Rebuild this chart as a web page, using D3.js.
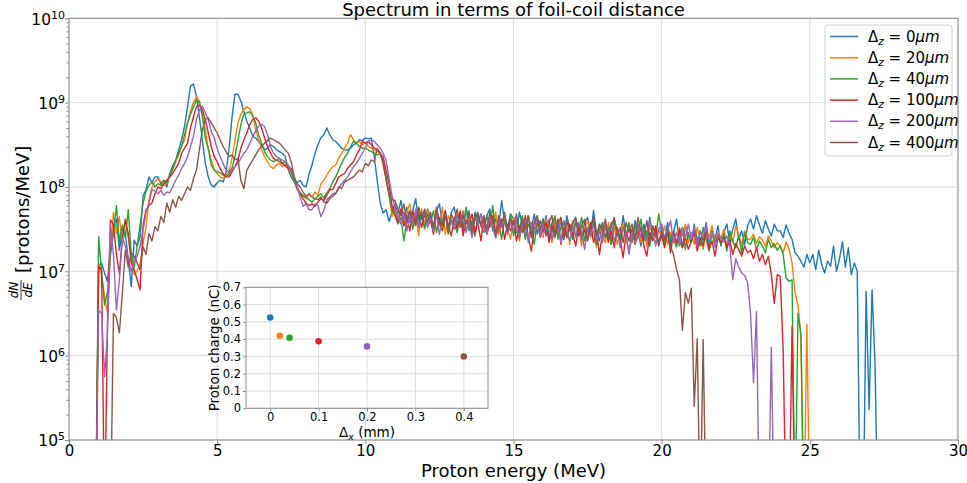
<!DOCTYPE html>
<html><head><meta charset="utf-8">
<script src="https://cdn.jsdelivr.net/npm/d3@7"></script>
<style>body{margin:0;background:#fff}svg{font-family:"DejaVu Sans",sans-serif}</style>
</head><body><svg id="c" width="967" height="483"></svg>
<script>
// ---------- DATA ----------
const seriesLabels = ["0", "20", "40", "100", "200", "400"];
const seriesColors = ["#1f77b4", "#ff7f0e", "#2ca02c", "#d62728", "#9467bd", "#8c564b"];
// spectra sampled on bins starting at energyStart (MeV), width binWidth; values are log10(dN/dE)
const energyStart = 0.9, binWidth = 0.1;
const log10_dz0 = [4.00,
 7.06,7.10,6.98,6.88,7.30,7.55,7.62,7.25,7.50,7.45,
 7.14,6.82,7.37,7.30,7.41,7.89,7.97,8.12,8.05,8.12,
 8.12,8.04,8.08,8.00,8.16,8.25,8.32,8.44,8.56,8.72,
 8.95,9.20,9.22,9.08,8.83,8.56,8.28,8.12,8.02,8.00,
 8.05,8.08,8.06,8.17,8.45,8.82,9.10,9.10,9.02,8.90,
 8.78,8.70,8.60,8.58,8.54,8.50,8.44,8.46,8.50,8.48,
 8.44,8.42,8.40,8.36,8.20,8.12,8.06,8.05,8.08,8.02,
 8.00,8.15,8.26,8.40,8.50,8.58,8.62,8.70,8.62,8.56,
 8.54,8.50,8.46,8.44,8.44,8.46,8.50,8.52,8.56,8.55,
 8.58,8.57,8.58,8.36,8.08,7.81,7.69,7.73,7.59,7.70,
 7.80,7.68,7.84,7.62,7.76,7.58,7.72,7.86,7.60,7.70,
 7.55,7.74,7.64,7.50,7.72,7.80,7.56,7.68,7.46,7.70,
 7.76,7.56,7.68,7.48,7.74,7.62,7.44,7.70,7.58,7.68,
 7.52,7.66,7.74,7.48,7.62,7.54,7.84,7.58,7.46,7.68,
 7.62,7.46,7.70,7.55,7.40,7.66,7.50,7.68,7.44,7.60,
 7.48,7.66,7.40,7.58,7.64,7.44,7.60,7.38,7.66,7.50,
 7.42,7.62,7.50,7.36,7.58,7.64,7.42,7.72,7.46,7.36,
 7.58,7.40,7.54,7.32,7.62,7.46,7.38,7.66,7.42,7.52,
 7.36,7.60,7.46,7.30,7.56,7.40,7.64,7.38,7.52,7.30,
 7.52,7.38,7.58,7.32,7.46,7.62,7.36,7.28,7.54,7.42,
 7.34,7.56,7.30,7.48,7.36,7.58,7.28,7.50,7.38,7.54,
 7.30,7.46,7.56,7.34,7.50,7.62,7.38,7.48,7.32,7.54,
 7.62,7.50,7.66,7.55,7.45,7.60,7.50,7.42,7.56,7.48,
 7.48,7.40,7.55,7.45,7.38,7.22,7.18,7.12,7.05,7.20,
 7.10,7.20,7.02,7.25,7.08,6.98,7.12,7.06,7.30,7.00,
 7.15,7.35,7.05,7.28,6.96,7.10,7.00,4.00,4.00,6.76,
 5.36,6.78,5.90,4.00];
const log10_dz20 = [4.00,
 7.10,6.95,6.70,6.50,7.20,7.70,7.45,7.65,7.30,7.62,
 7.40,7.18,6.96,7.00,7.10,7.33,7.53,7.85,8.00,8.06,
 8.10,8.06,8.02,8.04,8.12,8.20,8.30,8.38,8.48,8.56,
 8.76,8.90,9.00,9.07,9.02,8.86,8.68,8.45,8.32,8.20,
 8.16,8.12,8.10,8.14,8.18,8.34,8.55,8.76,8.86,8.92,
 8.95,8.93,8.86,8.68,8.56,8.44,8.36,8.30,8.24,8.22,
 8.26,8.28,8.24,8.27,8.22,8.16,8.08,7.97,7.92,7.89,
 7.86,7.92,7.88,7.94,7.90,8.04,8.08,8.14,8.20,8.24,
 8.26,8.34,8.40,8.46,8.52,8.62,8.56,8.52,8.54,8.50,
 8.52,8.48,8.46,8.44,8.42,8.40,8.26,8.10,7.93,7.65,
 7.76,7.60,7.74,7.54,7.70,7.80,7.56,7.68,7.42,7.74,
 7.54,7.72,7.60,7.48,7.70,7.54,7.76,7.44,7.66,7.58,
 7.50,7.70,7.58,7.72,7.48,7.64,7.54,7.42,7.68,7.56,
 7.66,7.46,7.62,7.52,7.70,7.44,7.58,7.66,7.50,7.38,
 7.64,7.52,7.36,7.60,7.48,7.66,7.42,7.58,7.64,7.46,
 7.40,7.62,7.50,7.34,7.58,7.46,7.64,7.40,7.56,7.32,
 7.60,7.44,7.54,7.30,7.52,7.60,7.40,7.48,7.28,7.56,
 7.44,7.34,7.58,7.42,7.52,7.32,7.46,7.56,7.38,7.24,
 7.50,7.40,7.56,7.34,7.46,7.30,7.54,7.42,7.34,7.50,
 7.40,7.54,7.32,7.46,7.38,7.28,7.52,7.42,7.56,7.34,
 7.46,7.32,7.52,7.38,7.26,7.48,7.40,7.54,7.34,7.46,
 7.38,7.50,7.30,7.44,7.34,7.54,7.44,7.30,7.48,7.38,
 7.38,7.44,7.33,7.41,7.37,7.30,7.42,7.36,7.28,7.34,
 7.30,7.22,7.35,7.26,7.10,6.75,6.60,6.22,4.00,6.37,
 4.00];
const log10_dz40 = [4.00,
 7.41,7.00,6.60,6.75,7.20,7.45,7.78,7.35,7.55,7.40,
 7.73,7.20,7.05,7.30,7.55,7.81,7.95,8.02,8.06,8.00,
 8.04,8.02,8.08,8.05,8.14,8.22,8.32,8.40,8.48,8.62,
 8.76,8.86,8.95,9.03,9.00,8.84,8.58,8.46,8.26,8.20,
 8.18,8.17,8.14,8.12,8.15,8.22,8.36,8.55,8.74,8.86,
 8.88,8.89,8.84,8.76,8.62,8.52,8.42,8.36,8.32,8.30,
 8.32,8.34,8.28,8.30,8.24,8.18,8.06,7.98,7.93,7.90,
 7.88,7.85,7.82,7.86,7.89,7.92,7.87,7.93,7.98,8.06,
 8.12,8.20,8.28,8.35,8.40,8.48,8.54,8.52,8.48,8.46,
 8.46,8.44,8.42,8.40,8.38,8.40,8.30,8.12,7.90,7.72,
 7.66,7.56,7.64,7.36,7.60,7.72,7.50,7.66,7.54,7.70,
 7.50,7.68,7.58,7.72,7.46,7.64,7.54,7.70,7.44,7.62,
 7.56,7.46,7.70,7.52,7.76,7.48,7.60,7.42,7.66,7.54,
 7.46,7.66,7.52,7.78,7.44,7.58,7.38,7.62,7.50,7.68,
 7.42,7.60,7.50,7.66,7.38,7.56,7.48,7.32,7.60,7.50,
 7.62,7.42,7.56,7.46,7.66,7.38,7.52,7.60,7.40,7.52,
 7.38,7.58,7.46,7.64,7.36,7.52,7.44,7.60,7.32,7.50,
 7.56,7.40,7.50,7.32,7.60,7.44,7.38,7.52,7.42,7.58,
 7.34,7.54,7.44,7.62,7.36,7.48,7.30,7.52,7.40,7.68,
 7.46,7.32,7.52,7.38,7.48,7.30,7.44,7.52,7.26,7.46,
 7.34,7.48,7.40,7.30,7.52,7.38,7.24,7.46,7.34,7.42,
 7.32,7.44,7.24,7.48,7.36,7.28,7.42,7.22,7.46,7.34,
 7.32,7.40,7.26,7.36,7.30,7.22,7.38,7.28,7.33,7.25,
 7.30,7.20,6.92,6.88,6.90,4.00,6.50,6.25,4.00];
const log10_dz100 = [4.00,
 7.06,7.02,4.00,6.43,7.61,7.55,7.21,6.97,7.40,7.61,
 7.45,7.10,7.02,6.90,6.78,7.55,7.73,7.78,7.81,7.92,
 8.00,7.98,8.04,8.08,8.12,8.16,8.22,8.28,8.40,8.46,
 8.52,8.70,8.83,8.95,8.97,8.92,8.80,8.64,8.48,8.36,
 8.30,8.22,8.16,8.12,8.12,8.18,8.24,8.32,8.46,8.56,
 8.64,8.74,8.80,8.82,8.78,8.70,8.58,8.48,8.40,8.34,
 8.32,8.30,8.28,8.25,8.22,8.22,8.12,8.00,7.92,7.86,
 7.81,7.78,7.80,7.77,7.82,7.86,7.84,7.90,7.97,7.97,
 8.04,8.12,8.14,8.16,8.22,8.26,8.30,8.38,8.44,8.54,
 8.52,8.54,8.50,8.46,8.44,8.40,8.36,8.20,8.04,7.78,
 7.68,7.58,7.74,7.54,7.66,7.48,7.72,7.58,7.70,7.52,
 7.68,7.54,7.60,7.44,7.74,7.58,7.48,7.66,7.56,7.42,
 7.64,7.50,7.72,7.42,7.60,7.54,7.68,7.46,7.58,7.36,
 7.62,7.44,7.56,7.66,7.40,7.54,7.62,7.38,7.56,7.48,
 7.60,7.36,7.54,7.46,7.66,7.40,7.24,7.50,7.58,7.42,
 7.48,7.58,7.34,7.54,7.44,7.62,7.32,7.52,7.40,7.56,
 7.44,7.30,7.54,7.40,7.50,7.36,7.58,7.34,7.48,7.20,
 7.44,7.54,7.34,7.48,7.28,7.52,7.38,7.16,7.46,7.36,
 7.50,7.32,7.42,7.52,7.30,7.18,7.46,7.36,7.54,7.32,
 7.42,7.28,7.48,7.22,7.46,7.34,7.50,7.28,7.40,7.26,
 7.36,7.46,7.24,7.40,7.30,7.48,7.26,7.36,7.18,7.40,
 7.34,7.40,7.28,7.36,7.20,7.33,7.26,7.18,7.30,7.22,
 7.25,7.15,7.28,7.12,7.20,7.08,7.18,6.96,6.62,6.96,
 6.94,6.07,4.00,4.00,6.35,4.00];
const log10_dz200 = [4.00,
 6.54,6.50,5.75,6.27,7.57,7.20,6.54,6.90,7.40,7.30,
 7.15,7.00,7.10,7.18,7.30,7.49,7.70,7.81,7.97,7.95,
 7.92,7.96,7.90,7.94,7.93,8.00,8.08,8.14,8.22,8.28,
 8.36,8.48,8.60,8.80,8.91,8.96,8.88,8.80,8.66,8.58,
 8.46,8.36,8.28,8.20,8.18,8.22,8.24,8.28,8.34,8.40,
 8.44,8.52,8.60,8.66,8.72,8.74,8.72,8.62,8.48,8.40,
 8.36,8.34,8.32,8.30,8.26,8.20,8.10,8.00,7.88,7.77,
 7.80,7.73,7.73,7.80,7.78,7.65,7.72,7.85,7.88,7.92,
 7.93,7.98,8.04,8.08,8.12,8.18,8.24,8.28,8.34,8.40,
 8.46,8.54,8.56,8.54,8.50,8.46,8.40,8.32,8.10,7.90,
 7.76,7.64,7.56,7.70,7.48,7.66,7.56,7.74,7.52,7.64,
 7.70,7.52,7.64,7.48,7.68,7.44,7.60,7.72,7.50,7.62,
 7.50,7.66,7.56,7.70,7.46,7.60,7.40,7.64,7.54,7.68,
 7.54,7.44,7.64,7.52,7.40,7.62,7.52,7.66,7.44,7.58,
 7.48,7.62,7.40,7.56,7.60,7.34,7.58,7.46,7.64,7.40,
 7.56,7.42,7.62,7.38,7.52,7.58,7.34,7.60,7.46,7.36,
 7.54,7.40,7.58,7.46,7.26,7.52,7.42,7.56,7.36,7.48,
 7.34,7.56,7.44,7.58,7.36,7.48,7.28,7.52,7.42,7.20,
 7.46,7.34,7.56,7.40,7.50,7.36,7.60,7.44,7.30,7.50,
 7.56,7.38,7.48,7.60,7.34,7.46,7.30,7.52,7.40,7.56,
 7.38,7.52,7.30,7.48,7.40,7.56,7.34,7.46,7.28,7.44,
 7.40,7.35,7.42,7.30,6.90,7.15,7.05,6.98,6.95,6.87,
 6.50,5.68,6.52,4.00,4.00,4.00,4.00,6.10,4.00];
const log10_dz400 = [4.00,
 4.00,4.00,4.00,4.00,4.00,6.50,6.45,6.27,6.74,7.25,
 7.05,7.22,7.18,7.10,7.02,7.29,7.20,7.45,7.36,7.53,
 7.48,7.65,7.58,7.81,7.70,7.85,7.76,7.89,7.84,7.92,
 8.00,7.96,8.10,8.20,8.44,8.68,8.80,8.82,8.76,8.70,
 8.64,8.56,8.48,8.42,8.36,8.38,8.32,8.34,8.08,7.98,
 8.20,8.26,8.32,8.38,8.44,8.48,8.52,8.55,8.58,8.56,
 8.54,8.52,8.48,8.44,8.40,8.30,8.12,8.04,8.00,7.94,
 7.89,7.92,7.88,7.86,7.85,7.88,7.82,7.81,7.86,7.89,
 7.92,8.00,7.98,8.06,8.08,8.10,8.12,8.16,8.20,8.18,
 8.28,8.25,8.32,8.30,8.46,8.40,8.30,8.08,7.92,7.85,
 7.84,7.74,7.66,7.80,7.58,7.72,7.64,7.54,7.76,7.62,
 7.74,7.58,7.70,7.52,7.76,7.60,7.54,7.72,7.48,7.68,
 7.60,7.74,7.52,7.66,7.56,7.72,7.46,7.64,7.70,7.54,
 7.66,7.50,7.70,7.58,7.44,7.66,7.54,7.70,7.48,7.62,
 7.56,7.68,7.46,7.62,7.50,7.66,7.40,7.58,7.66,7.48,
 7.62,7.44,7.58,7.66,7.40,7.56,7.64,7.38,7.60,7.48,
 7.58,7.64,7.42,7.54,7.62,7.38,7.52,7.64,7.42,7.56,
 7.48,7.62,7.38,7.54,7.64,7.42,7.52,7.34,7.58,7.46,
 7.56,7.38,7.64,7.48,7.40,7.60,7.36,7.54,7.46,7.34,
 7.46,7.38,7.44,7.30,7.20,7.02,6.90,6.30,6.75,6.62,
 6.80,5.40,6.20,4.00,6.19,4.00];
const spectra = [log10_dz0, log10_dz20, log10_dz40, log10_dz100, log10_dz200, log10_dz400];

// inset: total proton charge vs distance
const insetDistanceMm = [0, 0.02, 0.04, 0.1, 0.2, 0.4];
const insetChargeNc = [0.525, 0.42, 0.408, 0.388, 0.358, 0.30];

const xTickValues = [0, 5, 10, 15, 20, 25, 30];
const yMajorExponents = [5, 6, 7, 8, 9, 10];
const insetXTicks = [0, 0.1, 0.2, 0.3, 0.4];
const insetYTicks = [0, 0.1, 0.2, 0.3, 0.4, 0.5, 0.6, 0.7];

// ---------- DRAW ----------
const svg = d3.select("#c");
const L = 69, R = 958, T = 18.3, B = 440;
const x = d3.scaleLinear().domain([0, 30]).range([L, R]);
const y = d3.scaleLog().domain([1e5, 1e10]).range([B, T]);
const gridC = "#dcdcdc", spineC = "#8c8c8c";

svg.append("rect").attr("width", 967).attr("height", 483).attr("fill", "#fff");
svg.append("defs").append("clipPath").attr("id", "clip")
  .append("rect").attr("x", L).attr("y", T).attr("width", R - L).attr("height", B - T);

// grid
const majorY = yMajorExponents.map(e => Math.pow(10, e));
svg.append("g").selectAll("line").data(xTickValues).join("line")
  .attr("x1", d => x(d)).attr("x2", d => x(d)).attr("y1", T).attr("y2", B)
  .attr("stroke", gridC).attr("stroke-width", 1);
svg.append("g").selectAll("line").data(majorY).join("line")
  .attr("x1", L).attr("x2", R).attr("y1", d => y(d)).attr("y2", d => y(d))
  .attr("stroke", gridC).attr("stroke-width", 1);

// spectra
const line = d3.line()
  .x((d, i) => x(energyStart + i * binWidth))
  .y(d => y(Math.pow(10, d)));
const plot = svg.append("g").attr("clip-path", "url(#clip)");
spectra.forEach((s, k) => {
  plot.append("path").datum(s).attr("d", line)
    .attr("fill", "none").attr("stroke", seriesColors[k])
    .attr("stroke-width", 1.4).attr("stroke-linejoin", "round");
});

// axes
const xAxis = svg.append("g").attr("transform", `translate(0,${B})`)
  .call(d3.axisBottom(x).tickValues(xTickValues).tickSize(4).tickPadding(1).tickFormat(d3.format("d")));
xAxis.selectAll("text").attr("font-size", 15).attr("fill", "#000").attr("font-family", "DejaVu Sans");
const minorY = [];
for (let e = 5; e < 10; e++) for (let m = 2; m <= 9; m++) minorY.push(m * Math.pow(10, e));
svg.append("g").attr("transform", `translate(${L},0)`)
  .call(d3.axisLeft(y).tickValues(minorY).tickSize(2.5).tickFormat(""));
const yAxis = svg.append("g").attr("transform", `translate(${L},0)`)
  .call(d3.axisLeft(y).tickValues(majorY).tickSize(4).tickPadding(4).tickFormat(""));
yAxis.selectAll(".tick").each(function (d) {
  const t = d3.select(this).append("text").attr("x", -4).attr("dy", "0.38em")
    .attr("text-anchor", "end").attr("fill", "#000").attr("font-size", 15.5)
    .attr("font-family", "DejaVu Sans");
  t.append("tspan").text("10");
  t.append("tspan").attr("dy", "-0.55em").attr("font-size", 11).text(Math.round(Math.log10(d)));
});
svg.selectAll(".domain").remove();
svg.selectAll(".tick line").attr("stroke", spineC);
svg.append("rect").attr("x", L).attr("y", T).attr("width", R - L).attr("height", B - T)
  .attr("fill", "none").attr("stroke", spineC).attr("stroke-width", 1);

// titles
svg.append("text").attr("x", (L + R) / 2).attr("y", 16).attr("text-anchor", "middle")
  .attr("font-size", 18).text("Spectrum in terms of foil-coil distance");
svg.append("text").attr("x", (L + R) / 2).attr("y", 477).attr("text-anchor", "middle")
  .attr("font-size", 18).text("Proton energy (MeV)");
const yl = svg.append("g").attr("transform", "rotate(-90)");
yl.append("text").attr("x", -273).attr("y", 29).attr("font-size", 18).text("[protons/MeV]");
yl.append("text").attr("x", -290).attr("y", 18).attr("text-anchor", "middle")
  .attr("font-size", 12).attr("font-style", "italic").text("dN");
yl.append("line").attr("x1", -300).attr("x2", -280).attr("y1", 21).attr("y2", 21)
  .attr("stroke", "#000").attr("stroke-width", 0.8);
yl.append("text").attr("x", -290).attr("y", 32).attr("text-anchor", "middle")
  .attr("font-size", 12).attr("font-style", "italic").text("dE");

// legend
const lg = svg.append("g");
lg.append("rect").attr("x", 825).attr("y", 25).attr("width", 127).attr("height", 131)
  .attr("rx", 3).attr("fill", "#fff").attr("fill-opacity", 0.85).attr("stroke", "#d0d0d0");
seriesLabels.forEach((lab, i) => {
  const yy = 36.5 + i * 21.2;
  lg.append("line").attr("x1", 830).attr("x2", 858).attr("y1", yy).attr("y2", yy)
    .attr("stroke", seriesColors[i]).attr("stroke-width", 1.5);
  const t = lg.append("text").attr("x", 868).attr("y", yy + 5).attr("font-size", 15);
  t.append("tspan").text("Δ");
  t.append("tspan").attr("dy", 3).attr("font-size", 10.5).attr("font-style", "italic").text("z");
  t.append("tspan").attr("dy", -3).text(" = " + lab);
  t.append("tspan").attr("font-style", "italic").text("μm");
});

// inset
const iL = 246, iR = 488, iT = 287.3, iB = 408.3;
const ix = d3.scaleLinear().domain([-0.05, 0.45]).range([iL, iR]);
const iy = d3.scaleLinear().domain([0, 0.7]).range([iB, iT]);
const ins = svg.append("g");
ins.append("rect").attr("x", iL).attr("y", iT).attr("width", iR - iL).attr("height", iB - iT).attr("fill", "#fff");
ins.append("g").selectAll("line").data(insetXTicks).join("line")
  .attr("x1", d => ix(d)).attr("x2", d => ix(d)).attr("y1", iT).attr("y2", iB)
  .attr("stroke", gridC);
ins.append("g").selectAll("line").data(insetYTicks).join("line")
  .attr("x1", iL).attr("x2", iR).attr("y1", d => iy(d)).attr("y2", d => iy(d))
  .attr("stroke", gridC);
const iax = ins.append("g").attr("transform", `translate(0,${iB})`)
  .call(d3.axisBottom(ix).tickValues(insetXTicks).tickSize(3).tickPadding(2).tickFormat(d => d === 0 ? "0" : d3.format(".1f")(d)));
const iay = ins.append("g").attr("transform", `translate(${iL},0)`)
  .call(d3.axisLeft(iy).tickValues(insetYTicks).tickSize(3).tickPadding(2).tickFormat(d => d === 0 ? "0" : d3.format(".1f")(d)));
[iax, iay].forEach(a => {
  a.select(".domain").remove();
  a.selectAll("text").attr("font-size", 11.5).attr("fill", "#000").attr("font-family", "DejaVu Sans");
  a.selectAll(".tick line").attr("stroke", spineC);
});
ins.append("rect").attr("x", iL).attr("y", iT).attr("width", iR - iL).attr("height", iB - iT)
  .attr("fill", "none").attr("stroke", spineC);
ins.append("g").selectAll("circle").data(insetDistanceMm).join("circle")
  .attr("cx", d => ix(d)).attr("cy", (d, i) => iy(insetChargeNc[i])).attr("r", 3.3)
  .attr("fill", (d, i) => seriesColors[i]);
const ixl = ins.append("text").attr("x", (iL + iR) / 2).attr("y", 437).attr("text-anchor", "middle").attr("font-size", 13.5);
ixl.append("tspan").text("Δ");
ixl.append("tspan").attr("dy", 3).attr("font-size", 9.5).attr("font-style", "italic").text("x");
ixl.append("tspan").attr("dy", -3).text(" (mm)");
ins.append("text").attr("transform", `translate(219,${(iT + iB) / 2}) rotate(-90)`)
  .attr("text-anchor", "middle").attr("font-size", 13.5).text("Proton charge (nC)");
</script></body></html>
